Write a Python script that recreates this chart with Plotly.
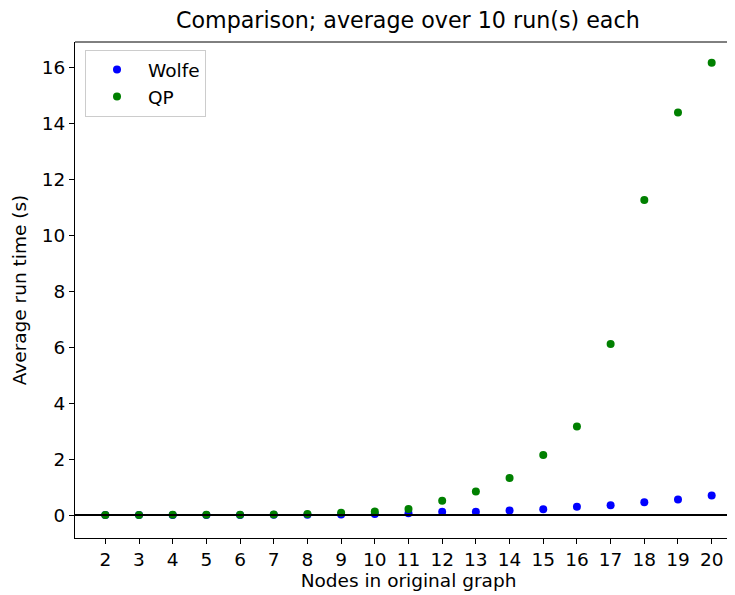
import plotly.graph_objects as go

nodes = list(range(2, 21))
wolfe = [0.003, 0.003, 0.004, 0.005, 0.006, 0.008, 0.012, 0.02, 0.035, 0.07, 0.12, 0.12, 0.16, 0.21, 0.30, 0.35, 0.46, 0.56, 0.70]
qp = [0.005, 0.006, 0.008, 0.01, 0.012, 0.02, 0.04, 0.08, 0.13, 0.22, 0.51, 0.84, 1.33, 2.15, 3.17, 6.12, 11.28, 14.41, 16.19]

font = "DejaVu Sans"
fs = 18.5
fig = go.Figure()
fig.add_trace(go.Scatter(x=nodes, y=wolfe, mode="markers", name="Wolfe",
                         marker=dict(color="#0000ff", size=8)))
fig.add_trace(go.Scatter(x=nodes, y=qp, mode="markers", name="QP",
                         marker=dict(color="#008000", size=8)))
fig.add_shape(type="line", xref="paper", yref="y", x0=0, x1=1, y0=0, y1=0,
              line=dict(color="black", width=2), layer="above")
fig.add_shape(type="line", xref="paper", yref="paper", x0=0, x1=1, y0=1, y1=1,
              line=dict(color="black", width=1))

fig.update_layout(
    width=735, height=595,
    margin=dict(l=67, r=1, t=34, b=65),
    paper_bgcolor="white", plot_bgcolor="white",
    font=dict(family=font, size=fs, color="#262626"),
    title=dict(text="Comparison; average over 10 run(s) each", x=0.544, xanchor="center",
               y=0.98, yanchor="middle", font=dict(size=22.2, color="black")),
    showlegend=True,
    legend=dict(x=0.015, y=0.984, xanchor="left", yanchor="top",
                bgcolor="rgba(255,255,255,0.8)", bordercolor="#cccccc", borderwidth=1,
                font=dict(size=fs, color="black"), itemwidth=52),
    xaxis=dict(range=[1.1, 20.9], tickmode="array", tickvals=nodes,
               ticktext=[str(n) for n in nodes], showgrid=False, zeroline=False,
               showline=True, linecolor="black", linewidth=1, ticks="outside",
               ticklen=5, tickcolor="black",
               title=dict(text="Nodes in original graph", font=dict(size=fs, color="black"), standoff=4),
               tickfont=dict(size=fs, color="black")),
    yaxis=dict(range=[-0.82, 16.93], tickmode="array", tickvals=[0, 2, 4, 6, 8, 10, 12, 14, 16],
               showgrid=False, zeroline=False, showline=True, linecolor="black", linewidth=1,
               ticks="outside", ticklen=5, tickcolor="black",
               title=dict(text="Average run time (s)", font=dict(size=fs, color="black"), standoff=10),
               tickfont=dict(size=fs, color="black")),
)
fig.write_html("out.html")
